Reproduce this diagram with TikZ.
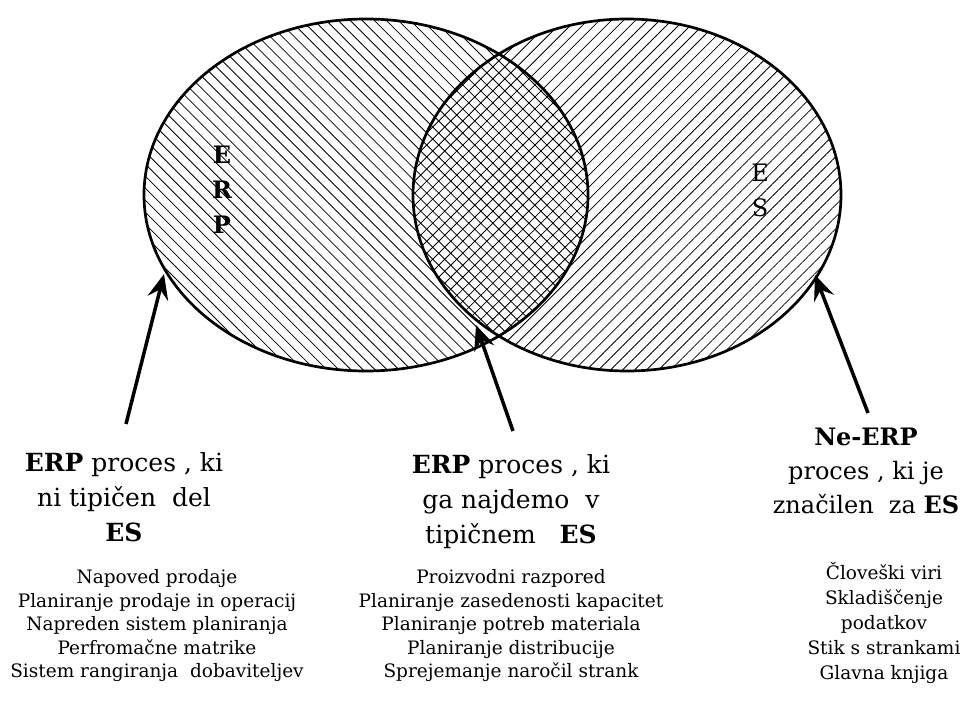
\documentclass[tikz,border=0pt]{standalone}
\usepackage{fontspec}
\setmainfont{DejaVu Serif}
\usetikzlibrary{patterns.meta,arrows.meta}
\begin{document}
\begin{tikzpicture}[x=1pt,y=-1pt,
  hatchL/.style={pattern={Lines[angle=-45,distance=8.5pt,line width=0.8pt]}},
  hatchR/.style={pattern={Lines[angle=45,distance=8.5pt,line width=0.8pt]}},
  rim/.style={draw=black,line width=2.7pt},
  arr/.style={line width=3.5pt,-{Stealth[length=25pt,width=21pt,inset=9pt]}},
  hdr/.style={align=center,font=\fontsize{25}{35}\selectfont,inner sep=0pt},
  lst/.style={align=center,font=\fontsize{18.5}{23.5}\selectfont,inner sep=0pt},
  inl/.style={align=center,font=\fontsize{24}{35}\selectfont,inner sep=0pt}]
\useasboundingbox[fill=white] (0,0) rectangle (963,704);
% ellipses
\path[hatchL] (366,195) ellipse[x radius=222,y radius=176];
\path[hatchR] (627,195) ellipse[x radius=214,y radius=176];
\draw[rim] (366,195) ellipse[x radius=222,y radius=176];
\draw[rim] (627,195) ellipse[x radius=214,y radius=176];
% inner labels
\node[inl,font=\fontsize{24}{35}\selectfont\bfseries] (erp) at (222,190) {E\\R\\P};
\node[inl] (es) at (760,190) {E\\S};
% arrows
\coordinate (t1) at (126,424); \coordinate (h1) at (164,274);
\coordinate (t2) at (513,431); \coordinate (h2) at (476,325);
\coordinate (t3) at (868,413); \coordinate (h3) at (815,275);
\draw[arr] (t1) -- (h1);
\draw[arr] (t2) -- (h2);
\draw[arr] (t3) -- (h3);
% texts
\node[hdr] (hdr1) at (124,497) {\textbf{ERP} proces , ki\\ni tipičen\ \ del\\\textbf{ES}};
\node[lst] (lst1) at (157,626) {Napoved prodaje\\Planiranje prodaje in operacij\\Napreden sistem planiranja\\Perfromačne matrike\\Sistem rangiranja\ \ dobaviteljev};
\node[hdr] (hdr2) at (511,502) {\textbf{ERP} proces , ki\\ga najdemo\ \ v\\tipičnem\ \ \ \textbf{ES}};
\node[lst] (lst2) at (511,626) {Proizvodni razpored\\Planiranje zasedenosti kapacitet\\Planiranje potreb materiala\\Planiranje distribucije\\Sprejemanje naročil strank};
\node[hdr,font=\fontsize{24}{34}\selectfont] (hdr3) at (866,471) {\textbf{Ne-ERP}\\proces , ki je\\značilen\ \ za \textbf{ES}};
\node[lst,font=\fontsize{18.5}{25}\selectfont] (lst3) at (884,623) {Človeški viri\\Skladiščenje\\podatkov\\Stik s strankami\\Glavna knjiga};
\end{tikzpicture}
\end{document}
